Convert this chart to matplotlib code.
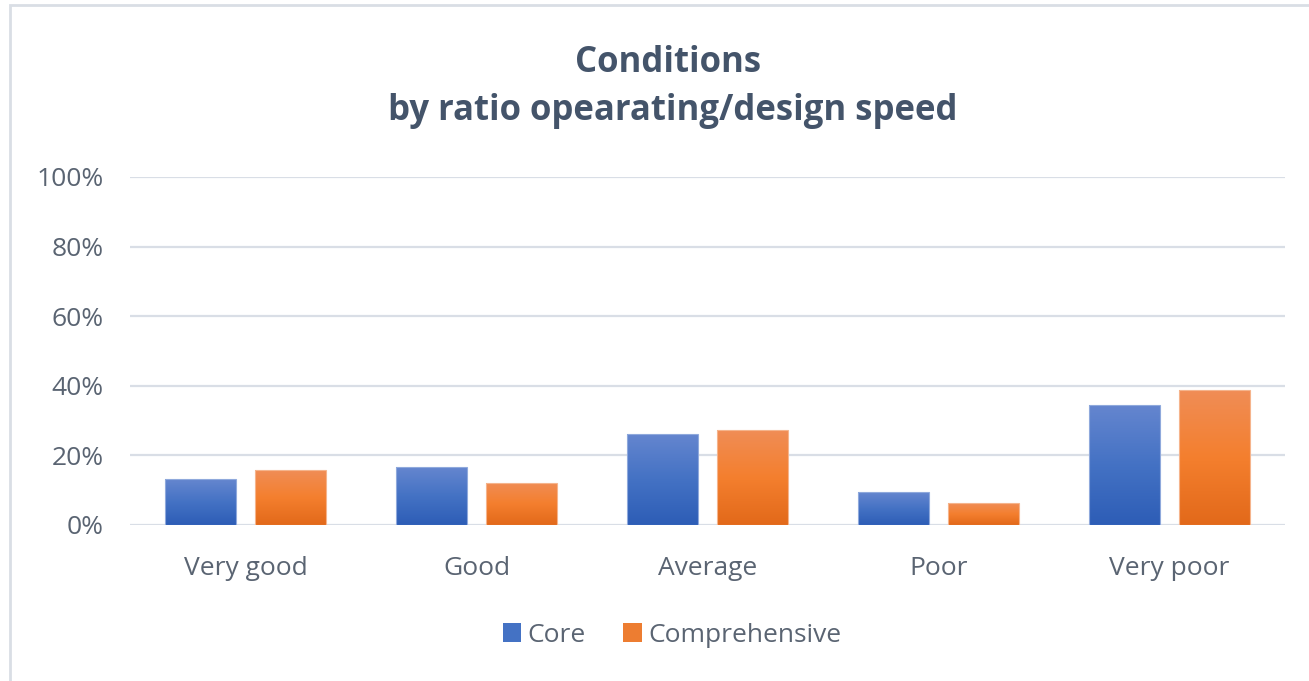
import matplotlib
matplotlib.use("Agg")
import matplotlib.pyplot as plt
import numpy as np
from matplotlib.patches import Rectangle
from matplotlib.colors import LinearSegmentedColormap

categories = ["Very good", "Good", "Average", "Poor", "Very poor"]
core = [0.132, 0.166, 0.262, 0.094, 0.345]
comprehensive = [0.157, 0.122, 0.272, 0.062, 0.387]
series_names = ["Core", "Comprehensive"]
yticks = [0, 0.2, 0.4, 0.6, 0.8, 1.0]
ytick_labels = ["0%", "20%", "40%", "60%", "80%", "100%"]

plt.rcParams['font.family'] = ['Open Sans', 'DejaVu Sans']

fig = plt.figure(figsize=(13.09, 6.81), dpi=100)
# outer frame
frame = Rectangle((10/1309, -0.1), 1.2, 1 - 5/681 + 0.1, transform=fig.transFigure,
                  fill=False, edgecolor="#D9DEE5", linewidth=2.0)
fig.patches.append(frame)

ax = fig.add_axes([130/1309, 1 - 525/681, 1155/1309, (525 - 177)/681])
x = np.arange(len(categories))
w = 0.307
off = 0.195

blue_cmap = LinearSegmentedColormap.from_list("b", ["#2D5DB6", "#4472C4", "#6586CF"])
orange_cmap = LinearSegmentedColormap.from_list("o", ["#E2691A", "#F47F2E", "#F08D56"])

grad = np.linspace(0, 1, 256).reshape(-1, 1)

def gradient_bars(xs, vals, cmap, edge):
    bars = ax.bar(xs, vals, width=w, color="none", edgecolor=edge, linewidth=0.8, zorder=3)
    for b in bars:
        x0, y0 = b.get_x(), b.get_y()
        bw, bh = b.get_width(), b.get_height()
        im = ax.imshow(grad, extent=[x0, x0 + bw, y0, y0 + bh], origin="lower",
                       aspect="auto", cmap=cmap, zorder=2.5)
        im.set_clip_path(b)
    return bars

gradient_bars(x - off, core, blue_cmap, "#8FA9DC")
gradient_bars(x + off, comprehensive, orange_cmap, "#F5B48C")

ax.set_xlim(-0.5, len(categories) - 0.5)
ax.set_ylim(0, 1.0)
ax.set_yticks(yticks)
ax.set_yticklabels(ytick_labels)
ax.set_xticks(x)
ax.set_xticklabels(categories)
ax.grid(axis="y", color="#D9DEE6", linewidth=1.6, zorder=0)
ax.set_axisbelow(True)
for s in ax.spines.values():
    s.set_visible(False)
ax.tick_params(axis="both", length=0, labelsize=19, colors="#5A6472")
ax.tick_params(axis="y", pad=19)
ax.tick_params(axis="x", pad=22)

fig.text(668/1309, 1 - 63/681, "Conditions", ha="center", va="center",
         fontsize=25, fontweight="bold", color="#44546A")
fig.text(673/1309, 1 - 111/681, "by ratio opearating/design speed", ha="center", va="center",
         fontsize=25, fontweight="bold", color="#44546A")

handles = [Rectangle((0, 0), 1, 1, facecolor="#4472C4"), Rectangle((0, 0), 1, 1, facecolor="#ED7D31")]
leg = fig.legend(handles, series_names, loc="center", bbox_to_anchor=(672/1309, 1 - 635/681),
                 ncol=2, frameon=False, fontsize=19, handlelength=0.7, handleheight=0.7,
                 handletextpad=0.25, columnspacing=1.4)
for t in leg.get_texts():
    t.set_color("#5A6472")

fig.savefig("out.png", dpi=100, facecolor="white")
